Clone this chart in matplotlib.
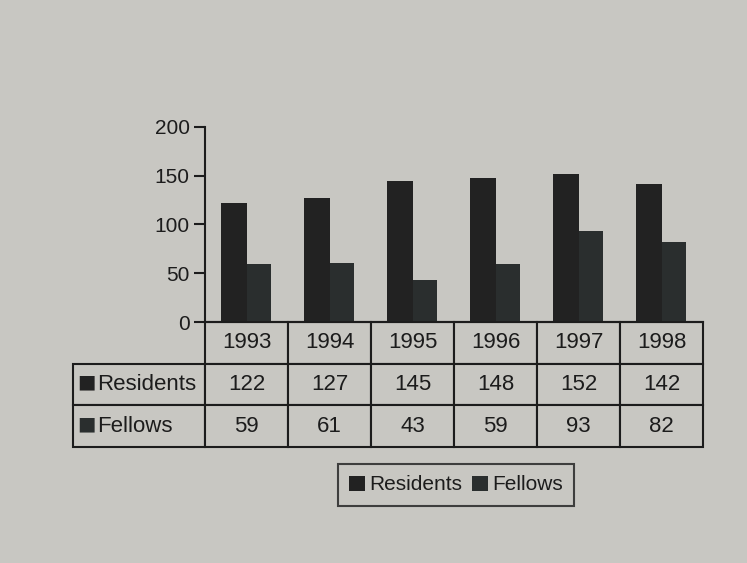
import matplotlib.pyplot as plt
import numpy as np

years = ['1993', '1994', '1995', '1996', '1997', '1998']
residents = [122, 127, 145, 148, 152, 142]
fellows = [59, 61, 43, 59, 93, 82]
series_names = ['Residents', 'Fellows']

bg = '#c8c7c2'
res_color = '#222222'
fel_color = '#2a2e2e'
ink = '#1c1c1c'

plt.rcParams['font.family'] = ['Liberation Sans', 'DejaVu Sans']

fig = plt.figure(figsize=(7.47, 5.63), dpi=100, facecolor=bg)
ax = fig.add_axes([205 / 747, 1 - 322 / 563, 498 / 747, 195 / 563])
ax.set_facecolor(bg)

x = np.arange(len(years))
ax.bar(x - 0.155, residents, 0.31, color=res_color, label=series_names[0])
ax.bar(x + 0.145, fellows, 0.29, color=fel_color, label=series_names[1])

ax.set_xlim(-0.5, len(years) - 0.5)
ax.set_ylim(0, 200)
ax.set_yticks([0, 50, 100, 150, 200])
ax.set_xticks([])
ax.tick_params(axis='y', length=8, width=1.5, colors=ink, labelsize=15, pad=3)
for s in ['top', 'right']:
    ax.spines[s].set_visible(False)
for s in ['left', 'bottom']:
    ax.spines[s].set_linewidth(1.5)
    ax.spines[s].set_color(ink)

# table: first column holds the series labels, top-left corner left empty
cells = [[series_names[0]] + [str(v) for v in residents],
         [series_names[1]] + [str(v) for v in fellows]]
tab = ax.table(cellText=cells, colLabels=[''] + years,
               colWidths=[132] + [83] * 6, cellLoc='center',
               bbox=[-132 / 498, -125 / 195, 630 / 498, 125 / 195])
tab.auto_set_font_size(False)
tab.set_fontsize(16)
for (r, c), cell in tab.get_celld().items():
    cell.set_facecolor(bg)
    cell.set_edgecolor(ink)
    cell.set_linewidth(1.5)
    cell.get_text().set_color(ink)
    if c == 0:
        cell.get_text().set_horizontalalignment('left')
        cell.PAD = 0.18
        if r == 0:
            cell.visible_edges = ''

# legend keys in front of the row labels
row_y = [-(125 / 3 * 1.5) / 195 + 0.012, -(125 / 3 * 2.5) / 195 + 0.012]
for yy, col in zip(row_y, [res_color, fel_color]):
    ax.text(-128 / 498, yy, '\u25a0', transform=ax.transAxes, fontsize=14,
            family='DejaVu Sans', color=col, ha='left', va='center')

leg = fig.legend(loc='center', bbox_to_anchor=(456 / 747, 1 - 485 / 563), ncol=2,
                 fontsize=15, frameon=True, fancybox=False, handlelength=0.75,
                 handleheight=0.75, handletextpad=0.2, columnspacing=0.5,
                 borderpad=0.55)
leg.get_frame().set_edgecolor(ink)
leg.get_frame().set_linewidth(1.5)
leg.get_frame().set_facecolor(bg)
for t in leg.get_texts():
    t.set_color(ink)

fig.savefig('out.png', dpi=100, facecolor=bg)
